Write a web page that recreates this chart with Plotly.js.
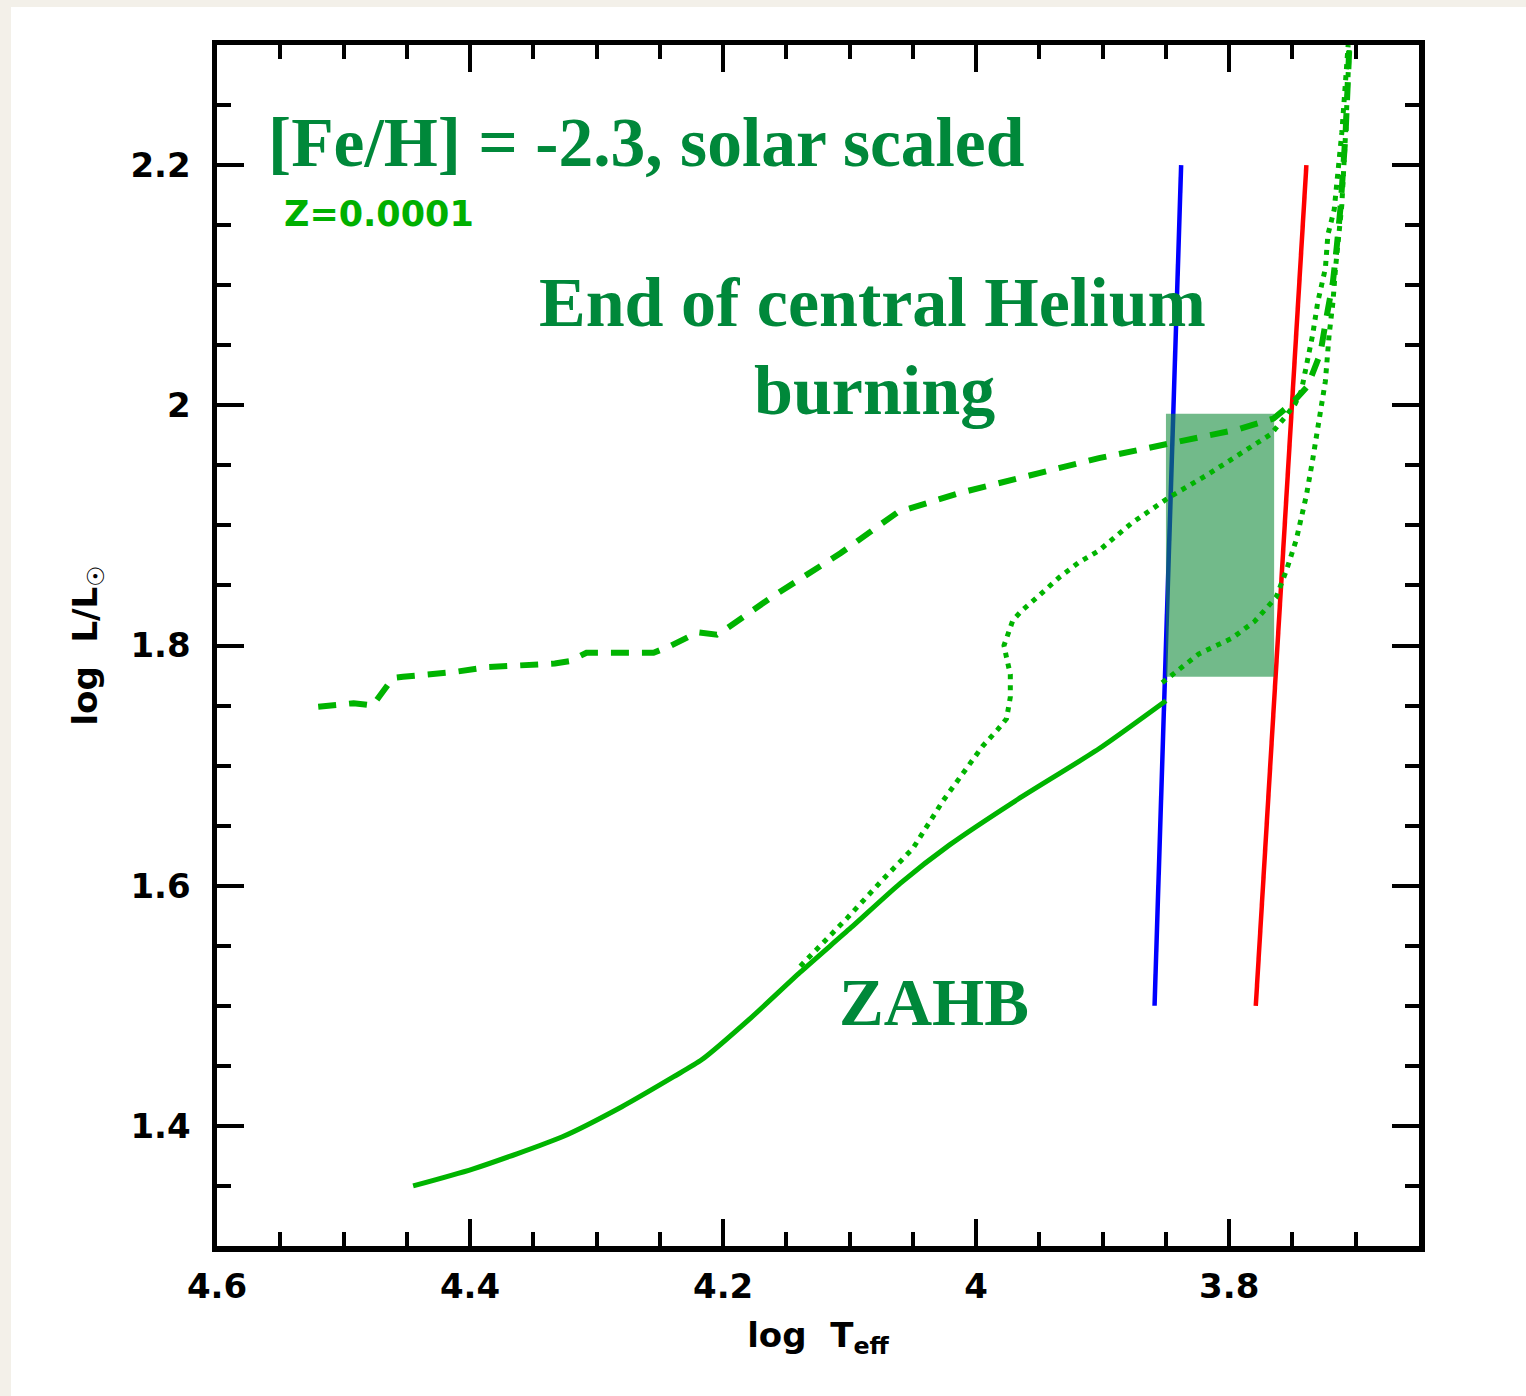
<!DOCTYPE html>
<html>
<head>
<meta charset="utf-8">
<script src="https://cdn.plot.ly/plotly-3.0.1.min.js"></script>
<style>
  html, body { margin: 0; padding: 0; background: #f3f0e9; }
  body { width: 1526px; height: 1396px; overflow: hidden; position: relative; }
  #card { position: absolute; left: 11px; top: 7px; right: 0; bottom: 0; background: #ffffff; }
  #hr { position: absolute; left: 0; top: 0; width: 1526px; height: 1396px; }
</style>
</head>
<body>
<div id="card"></div>
<div id="hr"></div>
<script>
// Horizontal-branch tracks, [Fe/H] = -2.3 (Z = 0.0001): log Teff vs log L/Lsun

// Zero-age horizontal branch
const zahbTeff = [4.445, 4.398, 4.327, 4.280, 4.239, 4.217, 4.178, 4.139, 4.099, 4.060, 4.021, 3.967, 3.903, 3.850];
const zahbLum  = [1.350, 1.364, 1.391, 1.416, 1.441, 1.455, 1.490, 1.528, 1.565, 1.602, 1.634, 1.672, 1.714, 1.754];

// End of central helium burning
const endHeTeff = [4.520, 4.492, 4.477, 4.461, 4.453, 4.412, 4.386, 4.333, 4.321, 4.308, 4.255, 4.243, 4.220, 4.205, 4.196, 4.162, 4.107, 4.062, 4.013, 3.958, 3.903, 3.848, 3.793, 3.765, 3.750, 3.738, 3.728, 3.723, 3.718, 3.715, 3.712, 3.708, 3.705];
const endHeLum  = [1.749, 1.752, 1.750, 1.773, 1.774, 1.778, 1.782, 1.785, 1.787, 1.794, 1.794, 1.799, 1.811, 1.809, 1.815, 1.840, 1.877, 1.911, 1.927, 1.941, 1.956, 1.968, 1.980, 1.989, 2.002, 2.016, 2.043, 2.074, 2.103, 2.132, 2.165, 2.227, 2.300];

// Evolutionary track starting on the blue part of the ZAHB
const trackATeff = [4.139, 4.102, 4.073, 4.050, 4.026, 3.995, 3.983, 3.976, 3.973, 3.973, 3.976, 3.978, 3.971, 3.964, 3.952, 3.934, 3.919, 3.903, 3.877, 3.848, 3.816, 3.791, 3.767, 3.756, 3.748, 3.743, 3.734, 3.730, 3.724, 3.722, 3.717, 3.711, 3.706];
const trackALum  = [1.533, 1.573, 1.606, 1.631, 1.671, 1.716, 1.730, 1.739, 1.757, 1.776, 1.790, 1.800, 1.821, 1.829, 1.840, 1.857, 1.869, 1.879, 1.902, 1.923, 1.943, 1.960, 1.976, 1.990, 2.001, 2.012, 2.059, 2.086, 2.114, 2.142, 2.163, 2.227, 2.300];

// Evolutionary track starting at the blue edge of the strip
const trackBTeff = [3.853, 3.824, 3.798, 3.780, 3.763, 3.755, 3.747, 3.739, 3.734, 3.729, 3.724, 3.721, 3.718, 3.716, 3.713, 3.711, 3.708, 3.705];
const trackBLum  = [1.769, 1.793, 1.806, 1.820, 1.840, 1.862, 1.888, 1.925, 1.955, 1.988, 2.020, 2.059, 2.086, 2.114, 2.142, 2.167, 2.227, 2.300];

// Instability strip edges
const blueEdgeTeff = [3.859, 3.838];
const blueEdgeLum  = [1.50, 2.20];
const redEdgeTeff  = [3.779, 3.739];
const redEdgeLum   = [1.50, 2.20];

// Shaded region
const boxTeff = [3.850, 3.7645];
const boxLum  = [1.774, 1.993];

// Axis ticks
const xTicks = [4.6, 4.4, 4.2, 4.0, 3.8];
const xTickText = ['4.6', '4.4', '4.2', '4', '3.8'];
const yTicks = [1.4, 1.6, 1.8, 2.0, 2.2];
const yTickText = ['1.4', '1.6', '1.8', '2', '2.2'];

const trackGreen = '#00b400';
const textGreen = '#00883a';

const traces = [
  { x: blueEdgeTeff, y: blueEdgeLum, mode: 'lines', line: { color: '#0000ff', width: 4.5 }, hoverinfo: 'skip' },
  { x: redEdgeTeff, y: redEdgeLum, mode: 'lines', line: { color: '#ff0000', width: 4.5 }, hoverinfo: 'skip' },
  {
    x: [boxTeff[0], boxTeff[1], boxTeff[1], boxTeff[0], boxTeff[0]],
    y: [boxLum[0], boxLum[0], boxLum[1], boxLum[1], boxLum[0]],
    mode: 'lines', fill: 'toself', fillcolor: 'rgba(20,140,60,0.6)',
    line: { width: 0, color: 'rgba(0,0,0,0)' }, hoverinfo: 'skip'
  },
  { x: zahbTeff, y: zahbLum, mode: 'lines', line: { color: trackGreen, width: 5, shape: 'spline', smoothing: 0.6 }, hoverinfo: 'skip' },
  { x: endHeTeff, y: endHeLum, mode: 'lines', line: { color: trackGreen, width: 6, dash: '18px,13px' }, hoverinfo: 'skip' },
  { x: trackATeff, y: trackALum, mode: 'lines', line: { color: trackGreen, width: 5, dash: '5px,6px' }, hoverinfo: 'skip' },
  { x: trackBTeff, y: trackBLum, mode: 'lines', line: { color: trackGreen, width: 5, dash: '5px,6px' }, hoverinfo: 'skip' }
];

const axisFont = { family: 'DejaVu Sans', size: 34, color: '#000000', weight: 'bold' };
const serifFont = (size, color) => ({ family: 'Liberation Serif', size: size, color: color, weight: 'bold' });

const commonAxis = {
  showgrid: false, zeroline: false,
  showline: true, linecolor: '#000000', linewidth: 5.5, mirror: 'allticks',
  ticks: 'inside', ticklen: 27, tickwidth: 4, tickcolor: '#000000',
  tickfont: axisFont,
  minor: { ticks: 'inside', ticklen: 14, tickwidth: 4, tickcolor: '#000000', showgrid: false }
};

const layout = {
  width: 1526, height: 1396,
  margin: { l: 217, r: 107, t: 45, b: 150 },
  paper_bgcolor: 'rgba(0,0,0,0)',
  plot_bgcolor: '#ffffff',
  showlegend: false,
  xaxis: Object.assign({}, commonAxis, {
    range: [4.6, 3.65], tickvals: xTicks, ticktext: xTickText,
    minor: Object.assign({}, commonAxis.minor, { dtick: 0.05, tick0: 4.6 }),
    ticklabelstandoff: 6,
    title: { text: 'log  T<sub>eff</sub>', font: axisFont, standoff: 20 }
  }),
  yaxis: Object.assign({}, commonAxis, {
    range: [1.3, 2.3], tickvals: yTicks, ticktext: yTickText,
    minor: Object.assign({}, commonAxis.minor, { dtick: 0.05, tick0: 1.3 }),
    ticklabelstandoff: 14,
    title: { text: 'log  L/L<sub>☉</sub>', font: axisFont, standoff: 24 }
  }),
  annotations: [
    { x: 4.561, y: 2.219, xref: 'x', yref: 'y', xanchor: 'left', yanchor: 'middle', showarrow: false,
      text: '[Fe/H] = -2.3, solar scaled', font: serifFont(69.5, textGreen) },
    { x: 4.549, y: 2.159, xref: 'x', yref: 'y', xanchor: 'left', yanchor: 'middle', showarrow: false,
      text: 'Z=0.0001', font: { family: 'DejaVu Sans', size: 35, color: '#00b000', weight: 'bold' } },
    { x: 4.082, y: 2.086, xref: 'x', yref: 'y', xanchor: 'center', yanchor: 'middle', showarrow: false,
      text: 'End of central Helium', font: serifFont(70, textGreen) },
    { x: 4.080, y: 2.012, xref: 'x', yref: 'y', xanchor: 'center', yanchor: 'middle', showarrow: false,
      text: 'burning', font: serifFont(70, textGreen) },
    { x: 4.033, y: 1.503, xref: 'x', yref: 'y', xanchor: 'center', yanchor: 'middle', showarrow: false,
      text: 'ZAHB', font: serifFont(67, textGreen) }
  ]
};

Plotly.newPlot('hr', traces, layout, { staticPlot: true, displayModeBar: false });
</script>
</body>
</html>
